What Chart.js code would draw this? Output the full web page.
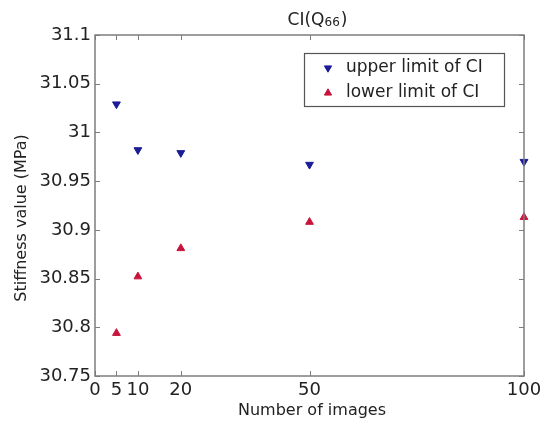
<!DOCTYPE html>
<html>
<head>
<meta charset="utf-8">
<title>CI(Q66)</title>
<script src="https://cdn.jsdelivr.net/npm/chart.js@4.4.1/dist/chart.umd.min.js"></script>
<style>
    html, body { margin: 0; padding: 0; background: #fff; }
    #wrap { width: 550px; height: 426px; position: relative; }
</style>
</head>
<body>
<div id="wrap"><canvas id="ciChart" width="550" height="426"></canvas></div>
<script>
// Dados: limites do intervalo de confiança em função do número de imagens
const nImagens = [5, 10, 20, 50, 100];
const limiteSuperior = [31.029, 30.982, 30.979, 30.967, 30.970];
const limiteInferior = [30.794, 30.852, 30.881, 30.908, 30.913];
const ticksX = [0, 5, 10, 20, 50, 100];
const ticksY = [30.75, 30.8, 30.85, 30.9, 30.95, 31, 31.05, 31.1];

const COR_AZUL = '#1c1c96';
const COR_VERMELHA = '#c8143c';
const COR_EIXO = '#7d7d7d';
const FONTE = '"DejaVu Sans", Verdana, sans-serif';

function pontos(ys) {
    return nImagens.map((x, i) => ({ x: x, y: ys[i] }));
}

function desenharTriangulo(ctx, x, y, r, rot, cor) {
    ctx.save();
    ctx.fillStyle = cor;
    ctx.strokeStyle = cor;
    ctx.lineWidth = 1;
    if (Chart.helpers && Chart.helpers.drawPoint) {
        Chart.helpers.drawPoint(ctx, { pointStyle: 'triangle', rotation: rot, radius: r, borderWidth: 1 }, x, y);
    } else {
        const a0 = rot * Math.PI / 180;
        ctx.beginPath();
        for (let k = 0; k < 3; k++) {
            const a = a0 + k * 2 * Math.PI / 3;
            ctx.lineTo(x + Math.sin(a) * r, y - Math.cos(a) * r);
        }
        ctx.closePath();
        ctx.fill();
        ctx.stroke();
    }
    ctx.restore();
}

// Moldura estilo MATLAB, marcas internas, títulos e legenda
const molduraPlugin = {
    id: 'moldura',
    afterDraw(chart) {
        const ctx = chart.ctx;
        const a = chart.chartArea;
        const sx = chart.scales.x;
        const sy = chart.scales.y;

        ctx.save();
        ctx.strokeStyle = COR_EIXO;
        ctx.lineWidth = 1.5;
        ctx.strokeRect(a.left, a.top, a.right - a.left, a.bottom - a.top);

        // marcas de escala voltadas para dentro nos quatro lados
        ctx.lineWidth = 1;
        ctx.beginPath();
        ticksX.forEach(v => {
            const px = Math.round(sx.getPixelForValue(v)) + 0.5;
            ctx.moveTo(px, a.bottom); ctx.lineTo(px, a.bottom - 5);
            ctx.moveTo(px, a.top); ctx.lineTo(px, a.top + 5);
        });
        ticksY.forEach(v => {
            const py = Math.round(sy.getPixelForValue(v)) + 0.5;
            ctx.moveTo(a.left, py); ctx.lineTo(a.left + 5, py);
            ctx.moveTo(a.right, py); ctx.lineTo(a.right - 5, py);
        });
        ctx.stroke();

        // título com índice subscrito
        ctx.fillStyle = '#222';
        ctx.textBaseline = 'alphabetic';
        const parte1 = 'CI(Q', sub = '66', parte2 = ')';
        ctx.font = '17px ' + FONTE;
        const w1 = ctx.measureText(parte1).width;
        const w3 = ctx.measureText(parte2).width;
        ctx.font = '12px ' + FONTE;
        const w2 = ctx.measureText(sub).width;
        const tx = 317 - (w1 + w2 + w3) / 2;
        const ty = 25;
        ctx.font = '17px ' + FONTE;
        ctx.textAlign = 'left';
        ctx.fillText(parte1, tx, ty);
        ctx.font = '12px ' + FONTE;
        ctx.fillText(sub, tx + w1, ty + 1);
        ctx.font = '17px ' + FONTE;
        ctx.fillText(parte2, tx + w1 + w2 + 1, ty);

        // títulos dos eixos
        ctx.textAlign = 'center';
        ctx.textBaseline = 'middle';
        ctx.font = '16px ' + FONTE;
        ctx.fillText('Number of images', 312, 411);
        ctx.save();
        ctx.translate(22, 218);
        ctx.rotate(-Math.PI / 2);
        ctx.fillText('Stiffness value (MPa)', 0, 0);
        ctx.restore();

        // legenda
        ctx.fillStyle = '#fff';
        ctx.fillRect(304, 53, 200, 53);
        ctx.strokeStyle = '#555';
        ctx.lineWidth = 1.2;
        ctx.strokeRect(304.5, 53.5, 200, 53);
        chart.data.datasets.forEach((ds, i) => {
            const ly = 68 + i * 25;
            desenharTriangulo(ctx, 328, ly, 4.2, ds.pointRotation, ds.backgroundColor);
            ctx.fillStyle = '#222';
            ctx.font = '17px ' + FONTE;
            ctx.textAlign = 'left';
            ctx.textBaseline = 'middle';
            ctx.fillText(ds.label, 346, ly);
        });
        ctx.restore();
    }
};

const ctx = document.getElementById('ciChart').getContext('2d');
new Chart(ctx, {
    type: 'scatter',
    data: {
        datasets: [{
            label: 'upper limit of CI',
            data: pontos(limiteSuperior),
            backgroundColor: COR_AZUL,
            borderColor: COR_AZUL,
            pointStyle: 'triangle',
            pointRotation: 180,
            pointRadius: 4.5,
            borderWidth: 1,
            clip: false
        }, {
            label: 'lower limit of CI',
            data: pontos(limiteInferior),
            backgroundColor: COR_VERMELHA,
            borderColor: COR_VERMELHA,
            pointStyle: 'triangle',
            pointRotation: 0,
            pointRadius: 4.5,
            borderWidth: 1,
            clip: false
        }]
    },
    options: {
        responsive: false,
        animation: false,
        layout: { padding: { top: 35, right: 26, left: 0, bottom: 0 } },
        plugins: { legend: { display: false }, tooltip: { enabled: false } },
        scales: {
            x: {
                type: 'linear',
                min: 0,
                max: 100,
                afterBuildTicks: s => { s.ticks = ticksX.map(v => ({ value: v })); },
                afterFit: s => { s.height = 50; },
                grid: { display: false, drawTicks: false },
                border: { display: false },
                ticks: {
                    autoSkip: false,
                    maxRotation: 0,
                    padding: 4,
                    color: '#222',
                    font: { family: FONTE, size: 18 }
                }
            },
            y: {
                type: 'linear',
                min: 30.75,
                max: 31.1,
                afterBuildTicks: s => { s.ticks = ticksY.map(v => ({ value: v })); },
                afterFit: s => { s.width = 95; },
                grid: { display: false, drawTicks: false },
                border: { display: false },
                ticks: {
                    autoSkip: false,
                    padding: 4,
                    color: '#222',
                    font: { family: FONTE, size: 18 },
                    callback: v => String(+v.toFixed(2))
                }
            }
        }
    },
    plugins: [molduraPlugin]
});
</script>
</body>
</html>
